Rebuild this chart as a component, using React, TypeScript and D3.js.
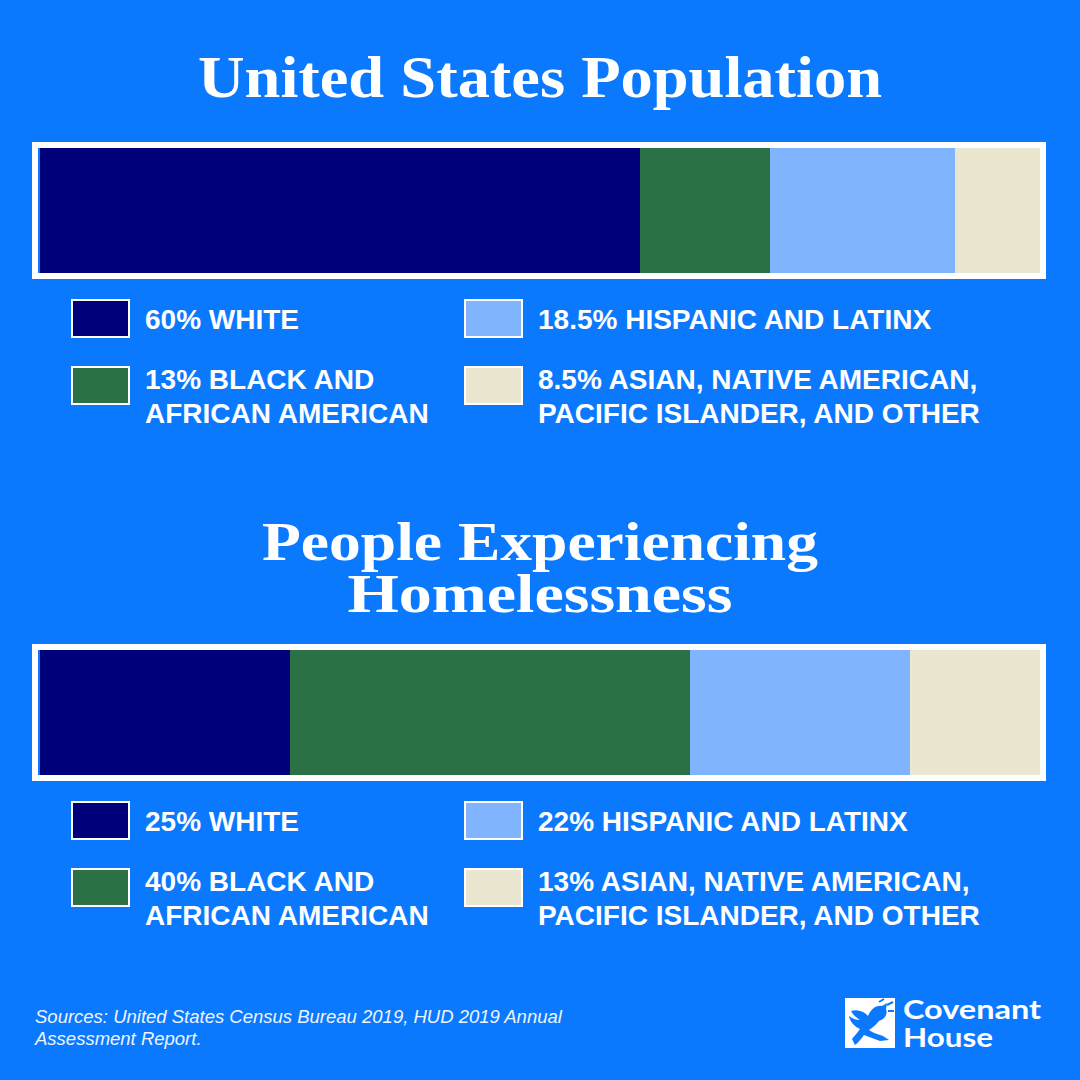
import React from "react";
import * as d3 from "d3";

const categories = ["WHITE", "BLACK AND AFRICAN AMERICAN", "HISPANIC AND LATINX", "ASIAN, NATIVE AMERICAN, PACIFIC ISLANDER, AND OTHER"];
const usValues = [60, 13, 18.5, 8.5];
const homelessValues = [25, 40, 22, 13];
const usLabels = [["60% WHITE"], ["13% BLACK AND", "AFRICAN AMERICAN"], ["18.5% HISPANIC AND LATINX"], ["8.5% ASIAN, NATIVE AMERICAN,", "PACIFIC ISLANDER, AND OTHER"]];
const homelessLabels = [["25% WHITE"], ["40% BLACK AND", "AFRICAN AMERICAN"], ["22% HISPANIC AND LATINX"], ["13% ASIAN, NATIVE AMERICAN,", "PACIFIC ISLANDER, AND OTHER"]];
const colors = ["#00007A", "#2C7045", "#80B4FF", "#EAE6D0"];

const BG = "#0B79FE";

function Panel({ values, labels, y0 }: { values: number[]; labels: string[][]; y0: number }) {
  const x = d3.scaleLinear().domain([0, 100]).range([40, 1040]);
  const cum = d3.cumsum(values);
  const starts = values.map((v, i) => cum[i] - v);
  const barTop = y0;
  const barH = 125;
  const legendCols = [72, 465];
  const legendRows = [y0 + 152, y0 + 219];
  return (
    <g>
      <rect x={35} y={barTop - 3} width={1008} height={barH + 6} fill="none" stroke="#FFFFFF" strokeWidth={6} />
      {values.map((v, i) => (
        <rect key={i} x={x(starts[i])} y={barTop} width={x(starts[i] + v) - x(starts[i])} height={barH} fill={colors[i]} />
      ))}
      {values.map((_, i) => {
        const col = i < 2 ? 0 : 1;
        const row = i % 2;
        const sx = legendCols[col];
        const sy = legendRows[row];
        const multi = labels[i].length > 1;
        return (
          <g key={i}>
            <rect x={sx} y={sy} width={57} height={37} fill={colors[i]} stroke="#FFFFFF" strokeWidth={2} />
            <text x={sx + 73} y={sy + (multi ? 22 : 29)} fill="#FFFFFF" fontFamily="'Liberation Sans', Arial, sans-serif" fontWeight="bold" fontSize={28}>
              {labels[i].map((ln, k) => (
                <tspan key={k} x={sx + 73} dy={k === 0 ? 0 : 34}>{ln}</tspan>
              ))}
            </text>
          </g>
        );
      })}
    </g>
  );
}

export default function App() {
  const titleFont = "'Liberation Serif', 'Times New Roman', serif";
  return (
    <div style={{ position: "fixed", left: 0, top: 0 }}>
      <svg width={1080} height={1080} viewBox="0 0 1080 1080">
        <rect x={0} y={0} width={1080} height={1080} fill={BG} />
        <text x={540} y={97} textAnchor="middle" fill="#FFFFFF" fontFamily={titleFont} fontWeight="bold" fontSize={60} textLength={684} lengthAdjust="spacingAndGlyphs">United States Population</text>
        <Panel values={usValues} labels={usLabels} y0={148} />
        <text x={540} y={560} textAnchor="middle" fill="#FFFFFF" fontFamily={titleFont} fontWeight="bold" fontSize={55}>
          <tspan x={540} y={560} textLength={556} lengthAdjust="spacingAndGlyphs">People Experiencing</tspan>
          <tspan x={540} y={612} textLength={385} lengthAdjust="spacingAndGlyphs">Homelessness</tspan>
        </text>
        <Panel values={homelessValues} labels={homelessLabels} y0={650} />
        <text x={35} y={1023} fill="#EEF4FF" fontFamily="'Liberation Sans', Arial, sans-serif" fontStyle="italic" fontSize={18.5}>
          <tspan x={35}>Sources: United States Census Bureau 2019, HUD 2019 Annual</tspan>
          <tspan x={35} dy={22}>Assessment Report.</tspan>
        </text>
        <g>
          <rect x={845} y={998} width={50} height={50} fill="#FFFFFF" />
          <path d="M851,1011 C857,1009 864,1011 868,1016 C871,1009 876,1005 882,1006 L887,1003 L886,1009 C888,1014 885,1019 879,1021 C876,1025 872,1028 869,1030 C873,1033 878,1034 883,1036 L889,1040 L880,1041 C875,1039 869,1037 864,1035 C861,1039 858,1043 855,1045 L852,1039 C855,1035 858,1032 860,1029 C855,1027 850,1022 849,1016 C853,1019 857,1020 860,1020 C857,1018 853,1015 851,1011 Z" fill={BG} />
          <path d="M879,1002 L884,999 M887,1005 L893,1002 M888,1011 L894,1011" stroke={BG} strokeWidth={2} />
          <text x={903} y={1019} fill="#FFFFFF" fontFamily="Lato, sans-serif" fontWeight="bold" fontSize={26}>
            <tspan x={903} y={1019} textLength={138} lengthAdjust="spacingAndGlyphs">Covenant</tspan>
            <tspan x={903} y={1047} textLength={90} lengthAdjust="spacingAndGlyphs">House</tspan>
          </text>
        </g>
      </svg>
    </div>
  );
}
